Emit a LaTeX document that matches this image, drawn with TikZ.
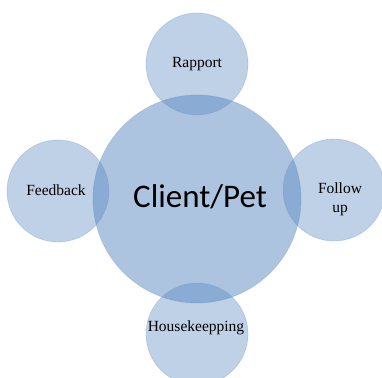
\documentclass[tikz,border=0pt]{standalone}
\usepackage{fontspec}
\setmainfont{Liberation Serif}
\newfontfamily\calib{Carlito}
\begin{document}
\begin{tikzpicture}[x=1pt,y=-1pt,
  outer/.style={circle,minimum size=102pt,inner sep=0pt,fill={rgb,255:red,79;green,129;blue,189},fill opacity=0.37,draw={rgb,255:red,120;green,150;blue,190},draw opacity=0.3,line width=0.8pt,text opacity=1,font=\fontsize{15.5}{18}\selectfont,align=center},
  center/.style={circle,minimum size=208pt,inner sep=0pt,fill={rgb,255:red,79;green,129;blue,189},fill opacity=0.47,draw={rgb,255:red,120;green,150;blue,190},draw opacity=0.3,line width=0.8pt,text opacity=1,font=\calib\fontsize{33}{36}\selectfont}]
\useasboundingbox (0,0) rectangle (382,377);
\node[center] (cp) at (197,199) {};
\node[outer] (rap) at (197,64) {};
\node[outer] (fb) at (58,191) {};
\node[outer] (fu) at (334,190) {};
\node[outer] (hk) at (197,334) {};
\node[font=\calib\fontsize{33}{36}\selectfont] (cpt) at (200,197) {Client/Pet};
\node[font=\fontsize{15.5}{18}\selectfont] (rapt) at (197,64) {Rapport};
\node[font=\fontsize{15.5}{18}\selectfont] (fbt) at (56,190) {Feedback};
\node[font=\fontsize{15.5}{19}\selectfont,align=center] (fut) at (340,199) {Follow\\up};
\node[font=\fontsize{15.5}{18}\selectfont] (hkt) at (196,328) {Housekeepping};
\end{tikzpicture}
\end{document}
